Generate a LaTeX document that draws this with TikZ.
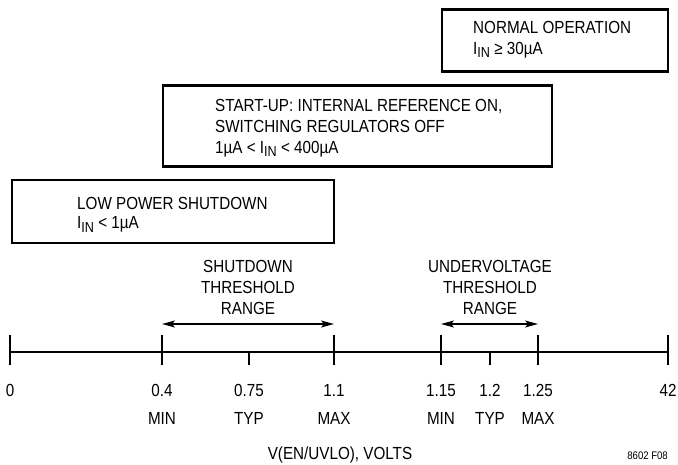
\documentclass[tikz,border=0pt]{standalone}
\usepackage{fontspec}
\setmainfont{Liberation Sans}[FakeStretch=0.87]
\usetikzlibrary{arrows.meta}
\newcommand{\Iin}{I\raisebox{-3.5pt}{\fontsize{14.5}{14.5}\selectfont IN}}
\begin{document}
\begin{tikzpicture}[x=1pt,y=-1pt,
  font=\fontsize{17.5}{21}\selectfont,
  box/.style={draw, line width=2.9pt, inner sep=0pt},
  txt/.style={inner sep=0pt, anchor=base west},
  lbl/.style={inner sep=0pt, anchor=base},
  axisline/.style={line width=1.1pt},
  rangearrow/.style={line width=1.1pt, {Stealth[length=13pt,width=7pt,inset=3pt]}-{Stealth[length=13pt,width=7pt,inset=3pt]}}]
\useasboundingbox (0,0) rectangle (678,465);

% boxes
\node[box, minimum width=226pt, minimum height=62pt] (normal) at (555,40.5) {};
\node[box, minimum width=389pt, minimum height=81.5pt] (startup) at (357.5,126) {};
\node[box, minimum width=322pt, minimum height=63pt] (lowpower) at (173,211.5) {};

% box texts
\node[txt] (no1) at (473,34) {NORMAL OPERATION};
\node[txt] (no2) at (473,54.5) {\Iin\ ≥ 30µA};
\node[txt] (su1) at (215,111.7) {START-UP: INTERNAL REFERENCE ON,};
\node[txt] (su2) at (215,132.7) {SWITCHING REGULATORS OFF};
\node[txt] (su3) at (215,153.5) {1µA < \Iin\ < 400µA};
\node[txt] (lp1) at (77,210) {LOW POWER SHUTDOWN};
\node[txt] (lp2) at (77,229) {\Iin\ < 1µA};

% range labels
\node[lbl] (sd1) at (248,272.7) {SHUTDOWN};
\node[lbl] (sd2) at (248,293.5) {THRESHOLD};
\node[lbl] (sd3) at (248,315) {RANGE};
\node[lbl] (uv1) at (490,272.7) {UNDERVOLTAGE};
\node[lbl] (uv2) at (490,293.5) {THRESHOLD};
\node[lbl] (uv3) at (490,315) {RANGE};

% range arrows
\coordinate (sa) at (162,324);
\coordinate (sb) at (334,324);
\coordinate (ua) at (441,324);
\coordinate (ub) at (538,324);
\draw[rangearrow] (sa) -- (sb);
\draw[rangearrow] (ua) -- (ub);

% axis
\coordinate (t0) at (10,352);
\coordinate (t04) at (162,352);
\coordinate (t075) at (249,352);
\coordinate (t11) at (334,352);
\coordinate (t115) at (441,352);
\coordinate (t12) at (490,352);
\coordinate (t125) at (538,352);
\coordinate (t42) at (668,352);
\draw[axisline] (t0) -- (t42);
\foreach \t in {t0,t04,t11,t115,t125,t42}
  \draw[axisline] (\t) ++(0,-17) -- ++(0,30);
\foreach \t in {t075,t12}
  \draw[axisline] (\t) -- ++(0,13);

% tick labels
\node[lbl] (n0) at (10,396) {0};
\node[lbl] (n04) at (162,396) {0.4};
\node[lbl] (n075) at (249,396) {0.75};
\node[lbl] (n11) at (334,396) {1.1};
\node[lbl] (n115) at (441,396) {1.15};
\node[lbl] (n12) at (490,396) {1.2};
\node[lbl] (n125) at (538,396) {1.25};
\node[lbl] (n42) at (668,396) {42};
\node[lbl] (m04) at (162,424) {MIN};
\node[lbl] (m075) at (249,424) {TYP};
\node[lbl] (m11) at (334,424) {MAX};
\node[lbl] (m115) at (441,424) {MIN};
\node[lbl] (m12) at (490,424) {TYP};
\node[lbl] (m125) at (538,424) {MAX};

\node[lbl] (xlabel) at (340,459) {V(EN/UVLO), VOLTS};
\node[txt, anchor=base east, font=\fontsize{11}{12}\selectfont] (fig) at (668,459) {8602 F08};
\end{tikzpicture}
\end{document}
